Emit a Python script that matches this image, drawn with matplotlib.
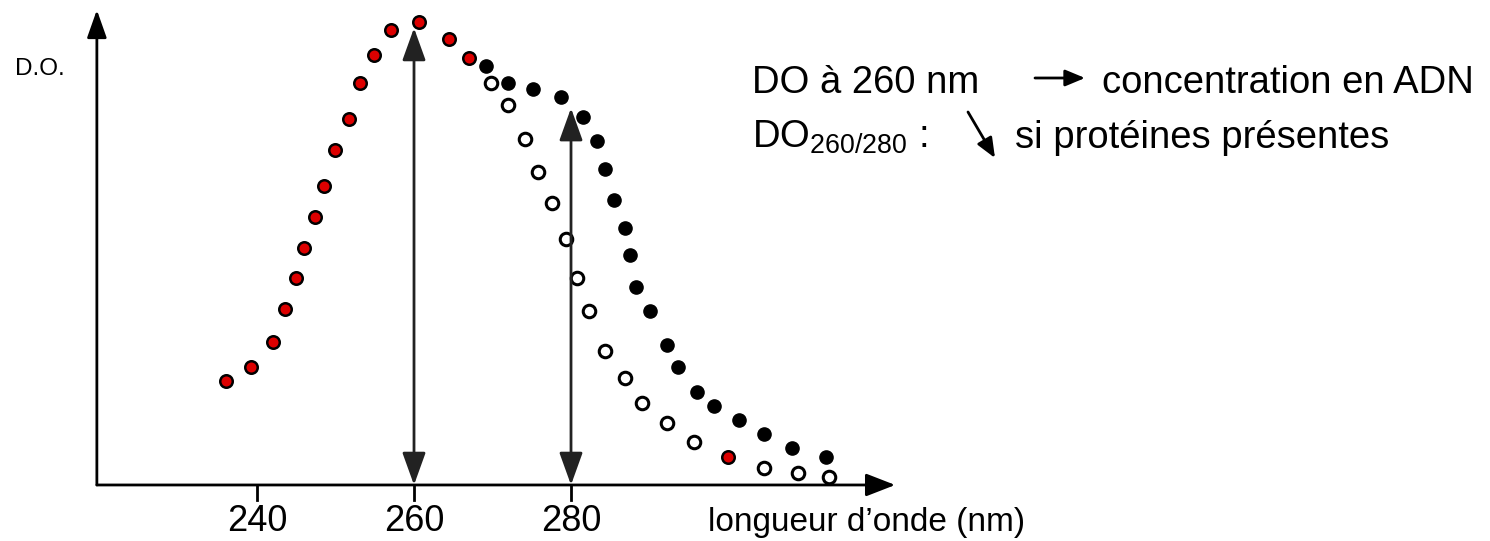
import numpy as np
import matplotlib.pyplot as plt

plt.rcParams['font.family'] = ['Liberation Sans', 'DejaVu Sans']

# spectre ADN pur (points rouges)
lam_rouge = [236.0, 239.2, 242.0, 243.6, 245.0, 246.0, 247.4, 248.5, 249.9, 251.7,
             253.1, 254.9, 257.1, 260.6, 264.5, 267.0, 300.0]
do_rouge = [0.225, 0.255, 0.309, 0.380, 0.447, 0.512, 0.579, 0.646, 0.724, 0.790,
            0.868, 0.929, 0.983, 1.000, 0.963, 0.922, 0.060]

# ADN + protéines (points noirs)
lam_noir = [269.2, 272.0, 275.2, 278.7, 281.5, 283.3, 284.3, 285.5, 286.9, 287.5,
            288.3, 290.1, 292.2, 293.6, 296.1, 298.2, 301.4, 304.6, 308.2, 312.5]
do_noir = [0.905, 0.868, 0.855, 0.838, 0.795, 0.743, 0.683, 0.616, 0.555, 0.497,
           0.428, 0.376, 0.302, 0.255, 0.201, 0.171, 0.140, 0.110, 0.080, 0.060]

# ADN seul, fin du spectre (cercles vides)
lam_vide = [269.8, 272.0, 274.1, 275.8, 277.6, 279.4, 280.8, 282.3, 284.3, 286.9,
            289.0, 292.2, 295.7, 304.6, 308.9, 312.9]
do_vide = [0.868, 0.821, 0.747, 0.676, 0.609, 0.531, 0.447, 0.376, 0.289, 0.231,
           0.177, 0.134, 0.093, 0.037, 0.026, 0.017]

ticks = [240, 260, 280]
fleches = [(260, 0.987), (280, 0.814)]

fig = plt.figure(figsize=(14.9, 5.41), dpi=100)
ax = fig.add_axes([0, 0, 1, 1])
ax.set_xlim(207.26, 397.07)
ax.set_ylim(-0.121, 1.0475)
ax.axis('off')

x0 = 219.6
# axes avec flèches
ax.annotate('', xy=(321.3, 0), xytext=(x0, 0),
            arrowprops=dict(arrowstyle='-|>,head_length=0.9,head_width=0.35',
                            mutation_scale=20, color='black', lw=2,
                            shrinkA=0, shrinkB=0))
ax.annotate('', xy=(x0, 1.026), xytext=(x0, 0),
            arrowprops=dict(arrowstyle='-|>,head_length=0.85,head_width=0.3',
                            mutation_scale=20, color='black', lw=2,
                            shrinkA=0, shrinkB=0))

for t in ticks:
    ax.plot([t, t], [0, -0.032], color='black', lw=2)
    ax.text(t, -0.078, str(t), ha='center', va='center', fontsize=26)

ax.text(297.5, -0.080, 'longueur d\u2019onde (nm)', ha='left', va='center', fontsize=24)
ax.text(0.010, 0.873, 'D.O.', transform=fig.transFigure, ha='left', va='center', fontsize=17.5)

# flèches doubles 260 et 280
for lam, top in fleches:
    ax.annotate('', xy=(lam, top), xytext=(lam, 0),
                arrowprops=dict(arrowstyle='<|-|>,head_length=1.0,head_width=0.36',
                                mutation_scale=20, color='#222222', lw=2,
                                shrinkA=0, shrinkB=0))

ax.plot(lam_vide, do_vide, 'o', ms=9, mfc='white', mec='black', mew=2.2)
ax.plot(lam_noir, do_noir, 'o', ms=9.5, mfc='black', mec='black', mew=1)
ax.plot(lam_rouge, do_rouge, 'o', ms=9, mfc='#dd0000', mec='black', mew=1.8)

# texte à droite
ax.text(752 / 1490, 1 - 93 / 541, 'DO \u00e0 260 nm', transform=fig.transFigure,
        ha='left', va='baseline', fontsize=27.5)
ax.text(1102 / 1490, 1 - 93 / 541, 'concentration en ADN', transform=fig.transFigure,
        ha='left', va='baseline', fontsize=27.5)
ax.text(752 / 1490, 1 - 148 / 541, r'$\mathregular{DO_{260/280}}$ :', transform=fig.transFigure,
        ha='left', va='baseline', fontsize=27.5)
ax.text(1015 / 1490, 1 - 148 / 541, 'si prot\u00e9ines pr\u00e9sentes', transform=fig.transFigure,
        ha='left', va='baseline', fontsize=27.5)
ax.annotate('', xy=(1085 / 1490, 1 - 78 / 541), xytext=(1035 / 1490, 1 - 78 / 541),
            xycoords='figure fraction',
            arrowprops=dict(arrowstyle='-|>,head_length=0.6,head_width=0.25',
                            mutation_scale=20, color='black', lw=2,
                            shrinkA=0, shrinkB=0))
ax.annotate('', xy=(995 / 1490, 1 - 158 / 541), xytext=(968 / 1490, 1 - 112 / 541),
            xycoords='figure fraction',
            arrowprops=dict(arrowstyle='-|>,head_length=0.6,head_width=0.25',
                            mutation_scale=20, color='black', lw=2,
                            shrinkA=0, shrinkB=0))

fig.savefig('out.png', dpi=100)
